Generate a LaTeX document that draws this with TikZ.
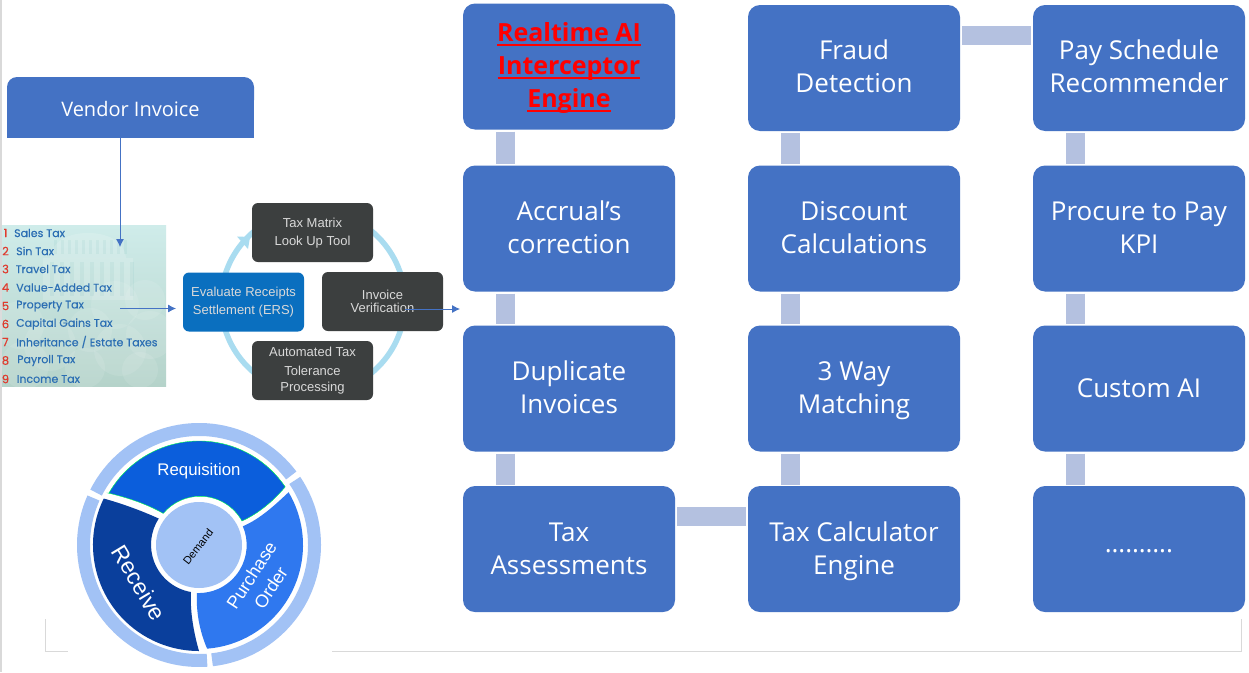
\documentclass[tikz,border=0pt]{standalone}
\usepackage{fontspec}
\setmainfont{Open Sans}
\newfontfamily\arialf{Liberation Sans}
\newfontfamily\pop[FakeBold=0.35]{Poppins}
\usetikzlibrary{arrows.meta,calc}
\definecolor{boxblue}{HTML}{4472C4}
\definecolor{connc}{HTML}{B4C1E0}
\definecolor{darkb}{HTML}{3C3F3F}
\definecolor{ersb}{HTML}{0A6FBF}
\definecolor{ringc}{HTML}{A9DCF0}
\definecolor{taxb}{HTML}{2B6EB3}
\definecolor{taxr}{HTML}{E03A2E}
\definecolor{oring}{HTML}{A2C2F5}
\definecolor{segA}{HTML}{0B5EDC}
\definecolor{segB}{HTML}{0A3F9C}
\definecolor{segC}{HTML}{2F78EF}
\definecolor{framec}{HTML}{D9D9D9}
\definecolor{arrowc}{HTML}{4472C4}
\definecolor{pantop}{HTML}{CFECEA}
\definecolor{panbot}{HTML}{B5D3CA}
\newcommand\st{\rule[-9pt]{0pt}{33pt}}
\newcommand\ml[2]{\st #1\\\st #2}
\newcommand\mlb[2]{\rule[-9pt]{0pt}{35pt}#1\\\st #2}
\newcommand\ru[1]{\leavevmode\setbox0\hbox{#1}\rlap{\raisebox{-4.5pt}{\rule{\wd0}{1.8pt}}}\box0}
\tikzset{
 x=1pt,y=-1pt,
 mainbox/.style={draw=none,fill=boxblue,rounded corners=12pt,minimum width=212pt,minimum height=126pt,
   text=white,align=center,font=\fontsize{26}{33}\selectfont,inner sep=0pt},
 conn/.style={connc,line width=19pt},
 flow/.style={arrowc,line width=0.8pt,-{Latex[length=8pt,width=8pt]}},
 cyc/.style={draw=none,fill=darkb,rounded corners=6pt,minimum width=121pt,minimum height=59pt,
   text=white!85!black,align=center,font=\arialf\fontsize{13}{18.5}\selectfont,inner sep=0pt},
 taxn/.style={text=taxb,anchor=west,font=\pop\fontsize{11}{11}\selectfont,inner sep=0pt},
 taxi/.style={text=taxr,anchor=center,font=\pop\fontsize{11.5}{11.5}\selectfont,inner sep=0pt},
 wheel/.style={text=white,align=center,font=\arialf,inner sep=0pt},
 oarc/.style={oring,line width=13pt}
}
\begin{document}
\begin{tikzpicture}
\useasboundingbox (0,0) rectangle (1249,672);
\fill[white] (0,0) rectangle (1249,672);
% frame
\draw[framec,line width=1.8pt] (1,0) -- (1,672);
\draw[framec,line width=1pt] (45,619) -- (45,651.5) -- (1241,651.5) -- (1241,619);
\fill[white] (68,640) rectangle (332,662);
% tax panel
\shade[top color=pantop,bottom color=panbot] (2,225) rectangle (166,386);
\coordinate (taxin) at (120,247);
\coordinate (taxout) at (120,308.5);
\coordinate (ersin) at (176,308.5);
% capitol and trees
\fill[white,opacity=.16] (50,258) .. controls (52,240) and (70,233) .. (88,233) .. controls (106,233) and (124,240) .. (126,258) -- cycle;
\fill[white,opacity=.16] (43,258) rectangle (133,300);
\foreach \i in {54,61,...,124}{\fill[teal,opacity=.05] (\i,240) rectangle (\i+2.5,254);}
\foreach \i in {50,60,...,130}{\fill[teal,opacity=.05] (\i,262) rectangle (\i+3.5,296);}
\foreach \cx/\cy/\r in {20/325/24,50/345/26,25/365/24,90/330/22,115/305/24,145/300/20,150/335/24,120/350/26,85/368/20,140/370/18}{
  \fill[white,opacity=.1] (\cx,\cy) circle[radius=\r];
}
\foreach \n/\t/\y/\xx in {1/{Sales Tax}/233/14,2/{Sin Tax}/251/16,3/{Travel Tax}/269/15.5,4/{Value-Added Tax}/287.5/16,5/{Property Tax}/306/16,6/{Capital Gains Tax}/324/16,7/{Inheritance / Estate Taxes}/342/16,8/{Payroll Tax}/360.5/17,9/{Income Tax}/379/16.5}{
  \node[taxi] at (5.5,\y) {\n};
  \node[taxn] at (\xx,\y) {\t};
}
% cycle
\draw[ringc,line width=5.5pt] (313,302) circle[radius=92];
\fill[ringc] (250,237) -- (237,236.5) -- (248,249) -- cycle;
\node[cyc] (taxm) at (312.5,232.5) {};
\node[cyc,fill=none,minimum height=0pt] (taxmt) at (312.5,233) {Tax Matrix\\Look Up Tool};
\node[cyc,fill=ersb] (ers) at (243.5,302) {Evaluate Receipts\\Settlement (ERS)};
\node[cyc,font=\arialf\fontsize{13}{13.5}\selectfont] (inv) at (382.5,301.5) {Invoice\\Verification};
\node[cyc] (auto) at (312.5,370.5) {};
\node[cyc,fill=none,minimum height=0pt,font=\arialf\fontsize{13}{16.5}\selectfont] (autot) at (312.5,371) {Automated Tax\\[2pt]Tolerance\\Processing};
% main boxes
\node[mainbox] (rt) at (569,66.5) {};
\node[text=red,align=center,font=\fontsize{25}{33}\selectfont\bfseries,inner sep=0pt] (rttext) at (569,66.5) {\st\ru{Realtime AI}\\\st\ru{Interceptor}\\\st\ru{Engine}};
\node[mainbox] (acc) at (569,228.5) {\mlb{Accrual’s}{correction}};
\node[mainbox] (dup) at (569,388.5) {\mlb{Duplicate}{Invoices}};
\node[mainbox] (tax) at (569,549) {\mlb{Tax}{Assessments}};
\node[mainbox] (fraud) at (854,68) {\ml{Fraud}{Detection}};
\node[mainbox] (disc) at (854,228.5) {\mlb{Discount}{Calculations}};
\node[mainbox] (way) at (854,388.5) {\mlb{3 Way}{Matching}};
\node[mainbox] (calc) at (854,549) {\mlb{Tax Calculator}{Engine}};
\node[mainbox] (pay) at (1139,68) {\ml{Pay Schedule}{Recommender}};
\node[mainbox] (kpi) at (1139,228.5) {\mlb{Procure to Pay}{KPI}};
\node[mainbox] (cust) at (1139,388.5) {Custom AI};
\node[mainbox] (more) at (1139,549) {\raisebox{-7pt}{……….}};
% connectors
\foreach \a/\b in {rt/acc,acc/dup,dup/tax,fraud/disc,disc/way,way/calc,pay/kpi,kpi/cust,cust/more}{
  \draw[conn,shorten <=2pt,shorten >=1pt] ([xshift=-64pt]\a.south) -- ([xshift=-64pt]\b.north);
}
\draw[conn,shorten <=2pt,shorten >=2pt] ([yshift=33pt]tax.east) -- ([yshift=33pt]calc.west);
\draw[conn,shorten <=2pt,shorten >=2pt] ([yshift=33pt]fraud.east) -- ([yshift=33pt]pay.west);
% vendor
\path[fill=boxblue,rounded corners=10pt] (7,100) -- (7,77) -- (254,77) -- (254,100);
\fill[boxblue] (7,95) rectangle (254,138);
\node[text=white,font=\fontsize{20}{24}\selectfont,inner sep=0pt] (vendor) at (130.5,109) {Vendor Invoice};
\coordinate (vb) at (120,138);
\draw[flow] (vb) -- (taxin);
\draw[flow] (taxout) -- (ersin);
\coordinate (invout) at (405,309);
\coordinate (mainin) at (460,309);
\draw[flow] (invout) -- (mainin);
% wheel
\coordinate (c) at (199,545);
\draw[oarc] ($(c)+(-153:115.5)$) arc[start angle=-153,end angle=-37,radius=115.5];
\draw[oarc] ($(c)+(-34:115.5)$) arc[start angle=-34,end angle=83.5,radius=115.5];
\draw[oarc] ($(c)+(86:115.5)$) arc[start angle=86,end angle=204,radius=115.5];
\fill[segA,draw=green!70!cyan,line width=.4pt] ($(c)+(-150:104)$) arc[start angle=-150,end angle=-34,radius=104]
  .. controls (270,505) and (255,515) .. (242,521)
  arc[start angle=-29,end angle=-140,radius=48]
  .. controls (145,503) and (125,497) .. (108,493) -- cycle;
\fill[segB] ($(c)+(-154:106)$) arc[start angle=-154,end angle=-270,radius=106]
  .. controls (193,630) and (190,610) .. (191,592)
  arc[start angle=99.6,end angle=213,radius=48]
  .. controls (140,510) and (120,503) .. cycle;
\fill[segC] ($(c)+(-30.5:104)$) arc[start angle=-30.5,end angle=85.5,radius=104]
  .. controls (199,630) and (196,610) .. (197,593)
  arc[start angle=92,end angle=-23,radius=48]
  .. controls (260,519) and (275,505) .. cycle;
\node[fill=oring,circle,minimum size=86pt,inner sep=0pt] (demand) at (c) {};
\node[rotate=52,text=black,font=\arialf\fontsize{11}{11}\selectfont,inner sep=0pt] (demandt) at (198,547) {Demand};
\node[wheel,font=\arialf\fontsize{16.8}{18}\selectfont] (req) at (199,471.5) {Requisition};
\node[wheel,rotate=-59,font=\arialf\fontsize{23}{24}\selectfont] (rec) at (139,583) {Receive};
\node[wheel,rotate=57,font=\arialf\fontsize{18}{23}\selectfont] (po) at (261,581.5) {Purchase\\Order};
\end{tikzpicture}
\end{document}
